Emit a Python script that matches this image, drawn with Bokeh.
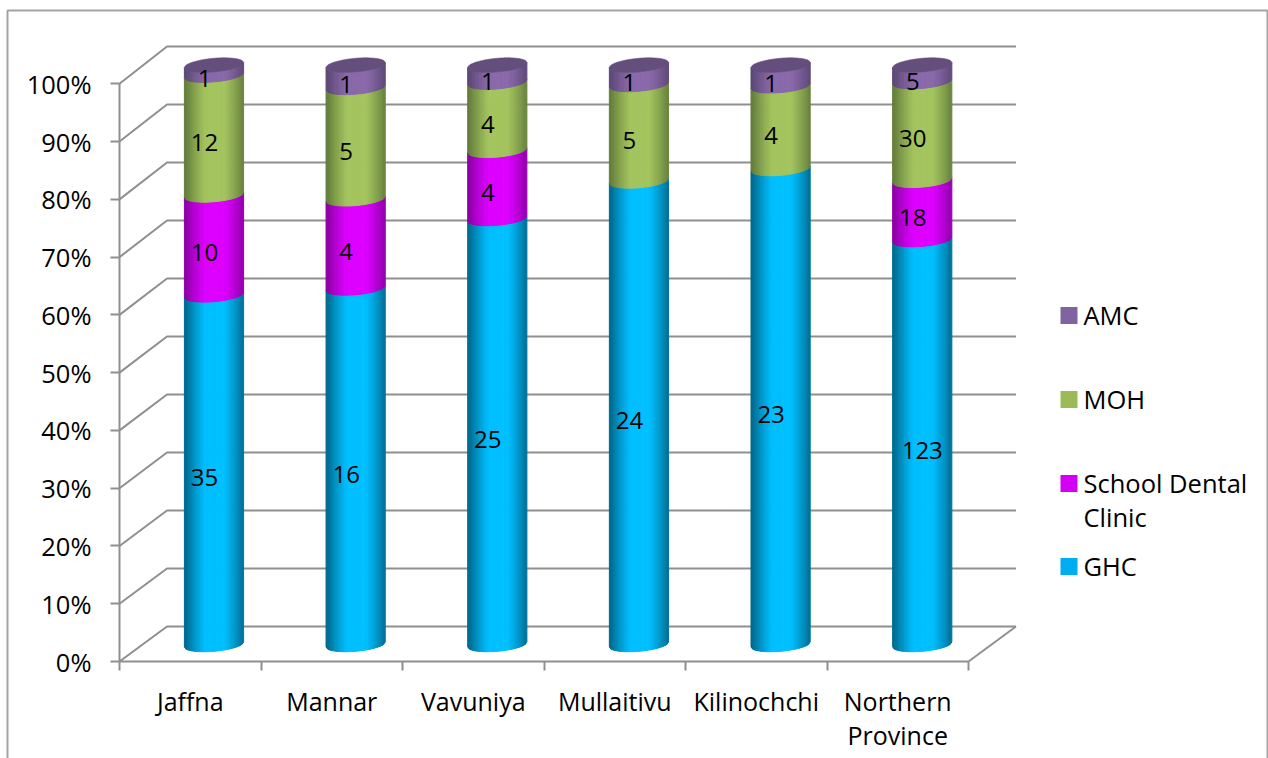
import math
from bokeh.plotting import figure
from bokeh.models import Range1d, FixedTicker
from bokeh.core.properties import value
from bokeh.embed import file_html
from bokeh.resources import INLINE

categories = ["Jaffna", "Mannar", "Vavuniya", "Mullaitivu", "Kilinochchi", "Northern\nProvince"]
ghc = [35, 16, 25, 24, 23, 123]
school = [10, 4, 4, 0, 0, 18]
moh = [12, 5, 4, 5, 4, 30]
amc = [1, 1, 1, 1, 1, 5]
y_ticks = [0, 10, 20, 30, 40, 50, 60, 70, 80, 90, 100]
legend_labels = ["AMC", "MOH", "School Dental\nClinic", "GHC"]
legend_colors = ["#8064a2", "#9bbb59", "#d400f5", "#00aeef"]

FONT = "Open Sans"
GRID = "#8f8f8f"

# layout scale (page pixels)
PW, PH = 1268, 758
FL, FB = 119, 661
X_PX = 141.5
Y_PX = 5.777


def px_x(px):
    return (px - FL) / X_PX


def px_y(py):
    return (FB - py) / Y_PX


p = figure(width=PW, height=PH, output_backend="svg", toolbar_location=None,
           x_range=Range1d(px_x(0), px_x(PW)), y_range=Range1d(px_y(PH), px_y(0)),
           min_border=0, background_fill_color="white", border_fill_color="white",
           styles={"position": "absolute", "left": "0px", "top": "0px"})
p.outline_line_color = None
p.grid.visible = False

# chart area border
p.multi_line([[px_x(7), px_x(7), px_x(1267), px_x(1267)]],
             [[px_y(820), px_y(10), px_y(10), px_y(820)]],
             line_color="#a3a3a3", line_width=2)

# axes
n = len(categories)
p.yaxis.fixed_location = 0
p.xaxis.fixed_location = 0
p.yaxis.ticker = FixedTicker(ticks=y_ticks)
p.yaxis.major_label_overrides = {t: f"{t}%" for t in y_ticks}
p.yaxis.bounds = (0, 100)
p.xaxis.ticker = FixedTicker(ticks=[i + 0.5 for i in range(n)], minor_ticks=list(range(n + 1)))
p.xaxis.major_label_overrides = {i + 0.5: c for i, c in enumerate(categories)}
p.xaxis.bounds = (0, n)
for ax in (p.xaxis, p.yaxis):
    ax.axis_line_color = GRID
    ax.axis_line_width = 2
    ax.major_tick_line_color = GRID
    ax.major_tick_line_width = 2
    ax.major_tick_in = 0
    ax.minor_tick_line_color = GRID
    ax.minor_tick_line_width = 2
    ax.minor_tick_in = 0
    ax.major_label_text_font = FONT
    ax.major_label_text_color = "black"
    ax.major_label_text_line_height = 1.0
p.yaxis.major_label_text_font_size = "25.5px"
p.xaxis.major_label_text_font_size = "25px"
p.yaxis.major_tick_out = 9
p.yaxis.minor_tick_out = 0
p.yaxis.major_label_standoff = 19
p.xaxis.major_tick_out = 0
p.xaxis.minor_tick_out = 9
p.xaxis.major_label_standoff = 13
p.xaxis.major_label_orientation = "horizontal"

# 3D walls
DEPTH_X = 47.5 / X_PX
BACK_Y0 = 35 / Y_PX
BACK_K = 1.004
xs_g, ys_g = [], []
for t in y_ticks:
    yb = BACK_Y0 + t * BACK_K
    xs_g.append([0, DEPTH_X, n + DEPTH_X])
    ys_g.append([t, yb, yb])
xs_g.append([n, n + DEPTH_X])
ys_g.append([0, BACK_Y0])
p.multi_line(xs_g, ys_g, line_color=GRID, line_width=2)

# cylinders
R = 29.6 / X_PX
H = 6.8 / Y_PX
TILT = 2.5 / Y_PX
CYL_Y0 = 17 / Y_PX
CYL_K = 1.003
STRIPS = 36

stops = {
    "ghc": ((0, 191, 255), (0, 105, 142)),
    "school": ((221, 0, 255), (140, 0, 165)),
    "moh": ((163, 196, 94), (100, 125, 60)),
    "amc": ((138, 105, 170), (92, 72, 118)),
}


def shade(base, edge, u):
    t = abs(u - 0.05)
    f = 0.0 if t < 0.3 else min(1.0, ((t - 0.3) / 0.7) ** 1.2)
    rgb = [round(b + (e - b) * f) for b, e in zip(base, edge)]
    return "#%02x%02x%02x" % tuple(rgb)


def front(pct, u):
    return CYL_Y0 + pct * CYL_K + TILT * u - H * math.sqrt(max(0.0, 1 - u * u))


sx, sy, sc = [], [], []
ex, ey = [], []
lx, ly, lt = [], [], []
LABEL_DX = -9.5 / X_PX
LABEL_DY = -8 / Y_PX
for i in range(n):
    cx = i + 0.5 + DEPTH_X / 2 + i * 0.15 / X_PX
    total = ghc[i] + school[i] + moh[i] + amc[i]
    lo = 0.0
    for key, vals in (("ghc", ghc), ("school", school), ("moh", moh), ("amc", amc)):
        v = vals[i]
        if v == 0:
            continue
        hi = lo + 100.0 * v / total
        base, edge = stops[key]
        for s in range(STRIPS):
            u0 = -1 + 2 * s / STRIPS
            u1 = -1 + 2 * (s + 1) / STRIPS
            sx.append([cx + R * u0, cx + R * u1, cx + R * u1, cx + R * u0])
            sy.append([front(lo, u0), front(lo, u1), front(hi, u1), front(hi, u0)])
            sc.append(shade(base, edge, (u0 + u1) / 2))
        mid = (lo + hi) / 2
        wide = v >= 100
        lx.append(cx + (0 if wide else LABEL_DX))
        ly.append(CYL_Y0 + mid * CYL_K + LABEL_DY)
        lt.append(str(v))
        lo = hi
    # top cap
    yc = CYL_Y0 + 100 * CYL_K
    us = [-1 + 2 * k / 60 for k in range(61)]
    ex.append([cx + R * u for u in us] + [cx + R * u for u in reversed(us)])
    ey.append([yc + TILT * u + H * math.sqrt(max(0.0, 1 - u * u)) for u in us] +
              [yc + TILT * u - H * math.sqrt(max(0.0, 1 - u * u)) for u in reversed(us)])

p.patches(sx, sy, fill_color=sc, line_color=sc, line_width=1)
p.patches(ex, ey, fill_color="#634e7c", line_color="#634e7c", line_width=0.6)

p.text(lx, ly, text=lt, text_align="center", text_baseline="middle",
       text_font=value(FONT), text_font_size="24px", text_color="black")

# legend
legend_y_px = [315, 399, 483, 566]
p.scatter([px_x(1068.5)] * 4, [px_y(v) for v in legend_y_px], marker="square", size=17,
          fill_color=legend_colors, line_color=None)
p.text([px_x(1083)] * 4, [px_y(v - 18) for v in legend_y_px], text=legend_labels,
       text_align="left", text_baseline="top", text_font=value(FONT),
       text_font_size="25.5px", text_color="black", text_line_height=1.0)

open("out.html", "w").write(file_html(p, INLINE))
